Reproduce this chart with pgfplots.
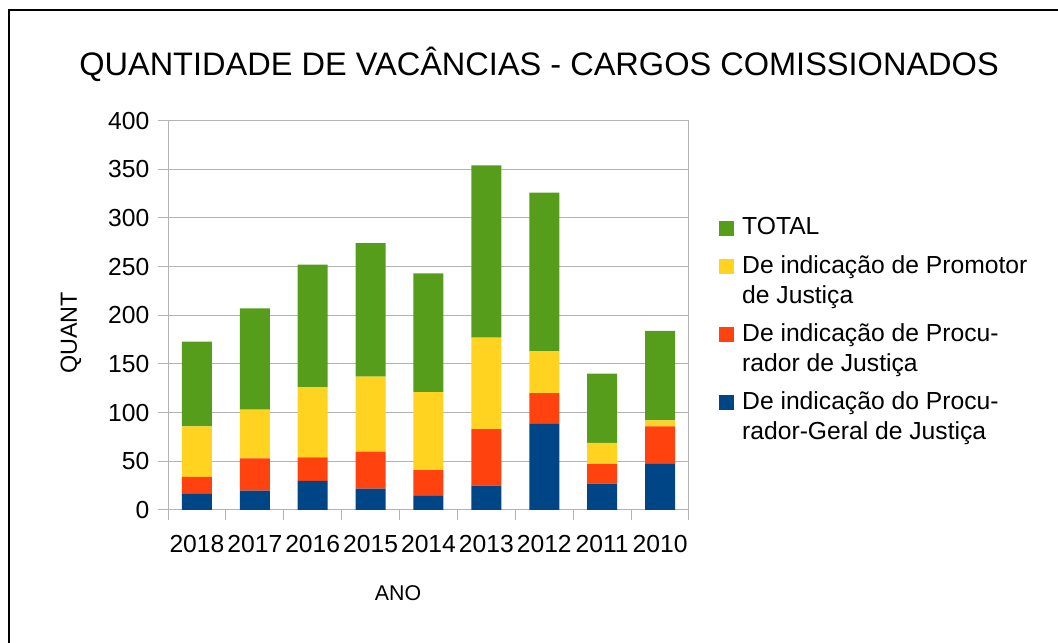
\documentclass[border=0pt]{standalone}
\usepackage{pgfplots}
\pgfplotsset{compat=1.18}
\usepackage{fontspec}
\setmainfont{Liberation Sans}
\definecolor{cblue}{HTML}{004586}
\definecolor{cred}{HTML}{FF420E}
\definecolor{cyellow}{HTML}{FFD320}
\definecolor{cgreen}{HTML}{579D1C}
\definecolor{gridgray}{HTML}{B3B3B3}
\pgfplotsset{
  twoline legend/.style={legend image code/.code={\fill[##1] (0pt,22pt) rectangle (11.25pt,33.25pt);}},
}
\begin{document}
\begin{tikzpicture}[x=0.75pt,y=0.75pt]
\useasboundingbox (0,0) rectangle (1058,643);
\draw[line width=1.2pt] (9,-5) -- (9,633) -- (1065,633);
\node[anchor=base,font=\fontsize{24.4}{28}\selectfont] at (539,567) {QUANTIDADE DE VACÂNCIAS - CARGOS COMISSIONADOS};
\begin{axis}[
  at={(126pt,99.75pt)}, anchor=south west,
  scale only axis, width=390.75pt, height=292.1pt,
  ybar stacked, bar width=22.5pt,
  xmin=-0.5, xmax=8.5, ymin=0, ymax=400,
  ytick={0,50,...,400},
  xtick={-0.5,0.5,...,8.5}, xticklabels={,,,,,,,,,,},
  extra x ticks={0,1,2,3,4,5,6,7,8},
  extra x tick labels={2018,2017,2016,2015,2014,2013,2012,2011,2010},
  extra x tick style={major tick length=0pt, tick style={draw=none},
    xticklabel style={yshift=-15.5pt}},
  tick pos=left,
  tick align=outside, major tick length=7.5pt,
  axis line style={gridgray, line width=0.75pt},
  tick style={gridgray, line width=0.75pt},
  ymajorgrids, grid style={gridgray, line width=0.75pt},
  /pgf/number format/assume math mode=true,
  tick label style={font=\fontsize{18.5}{22}\selectfont},
  yticklabel style={xshift=-3pt},
  xlabel={ANO}, ylabel={QUANT},
  xlabel style={font=\fontsize{16}{19}\selectfont, at={(axis description cs:0.4415,-0.2336)}, anchor=base},
  ylabel style={font=\fontsize{17.5}{21}\selectfont, at={(axis description cs:-0.1747,0.4544)}, anchor=base},
  reverse legend,
  legend image code/.code={\fill[#1] (0pt,-0.5pt) rectangle (11.25pt,10.75pt);},
  legend style={draw=none, fill=none, at={(1.0485,0.765)}, anchor=north west,
    font=\fontsize{18.5}{22.5}\selectfont, cells={anchor=base west, align=left},
    column sep=4.5pt, row sep=9.75pt},
]
\addplot[fill=cblue, draw=none, twoline legend] coordinates {(0,17) (1,20) (2,30) (3,22) (4,15) (5,25) (6,89) (7,27) (8,48)};
\addplot[fill=cred, draw=none, twoline legend] coordinates {(0,17) (1,33) (2,24) (3,38) (4,26) (5,58) (6,31) (7,20) (8,38)};
\addplot[fill=cyellow, draw=none, twoline legend] coordinates {(0,52) (1,50) (2,72) (3,77) (4,80) (5,94) (6,43) (7,22) (8,6)};
\addplot[fill=cgreen, draw=none] coordinates {(0,87) (1,104) (2,126) (3,137) (4,122) (5,177) (6,163) (7,71) (8,92)};
\legend{De indicação do Procu-\\rador-Geral de Justiça, De indicação de Procu-\\rador de Justiça, De indicação de Promotor\\de Justiça, TOTAL}
\end{axis}
\end{tikzpicture}
\end{document}
